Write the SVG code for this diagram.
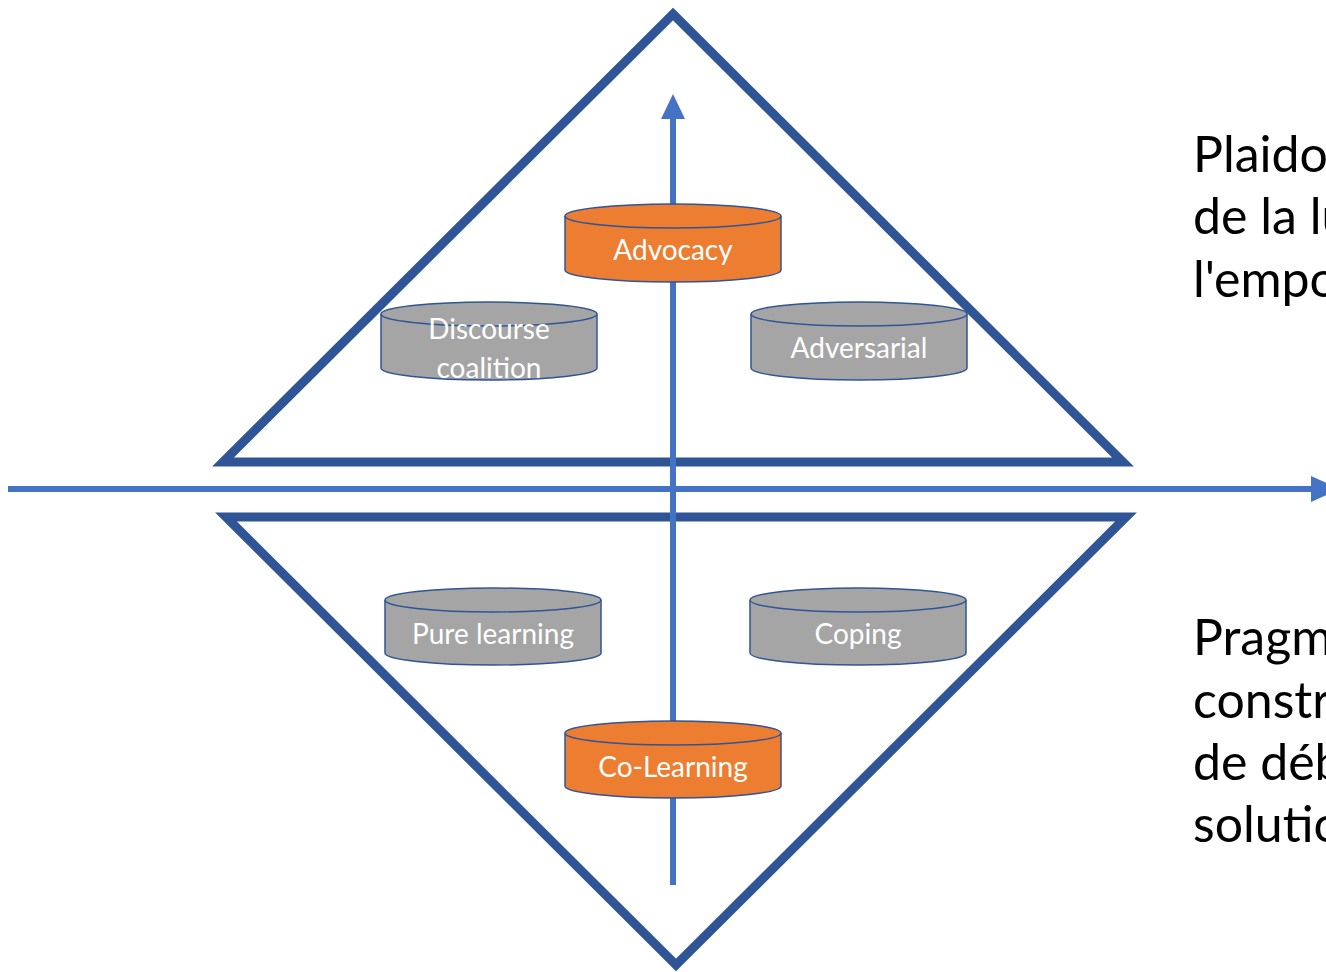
<svg xmlns="http://www.w3.org/2000/svg" width="1326" height="972" viewBox="0 0 1326 972">
<style>
.tri{fill:none;stroke:#2F5597;stroke-width:9;stroke-linejoin:miter}
.axis{stroke:#4472C4;stroke-width:6;fill:none}
.head{fill:#4472C4}
.cyl-o{fill:#ED7D31;stroke:#2F5597;stroke-width:1.5}
.cyl-g{fill:#A5A5A5;stroke:#2F5597;stroke-width:1.5}
.lbl{font-family:Lato,"Liberation Sans",sans-serif;font-size:28px;fill:#FFFFFF;text-anchor:middle}
.side{font-family:Lato,"Liberation Sans",sans-serif;font-size:50px;fill:#000000}
</style>
<rect width="1326" height="972" fill="#FFFFFF"/>
<g id="upper-triangle"><polygon class="tri" points="673,14 1123,462 223,462"/></g>
<g id="lower-triangle"><polygon class="tri" points="226,517 1126,517 676,965"/></g>
<g id="connectors">
<line class="axis" x1="8" y1="489" x2="1312" y2="489"/>
<polygon class="head" points="1311,476 1340,489 1311,502"/>
<line class="axis" x1="673" y1="885" x2="673" y2="118"/>
<polygon class="head" points="661,119 673,94 685,119"/>
</g>
<g id="advocacy">
<path class="cyl-o" d="M565,216 L565,270 A108,12 0 0 0 781,270 L781,216"/>
<ellipse class="cyl-o" cx="673" cy="216" rx="108" ry="12"/>
<text class="lbl" x="673" y="260">Advocacy</text>
</g>
<g id="discourse-coalition">
<path class="cyl-g" d="M381,314 L381,368 A108,12 0 0 0 597,368 L597,314"/>
<ellipse class="cyl-g" cx="489" cy="314" rx="108" ry="12"/>
<text class="lbl" x="489" y="339">Discourse</text>
<text class="lbl" x="489" y="378">coalition</text>
</g>
<g id="adversarial">
<path class="cyl-g" d="M751,314 L751,368 A108,12 0 0 0 967,368 L967,314"/>
<ellipse class="cyl-g" cx="859" cy="314" rx="108" ry="12"/>
<text class="lbl" x="859" y="358">Adversarial</text>
</g>
<g id="pure-learning">
<path class="cyl-g" d="M385,600 L385,653 A108,12 0 0 0 601,653 L601,600"/>
<ellipse class="cyl-g" cx="493" cy="600" rx="108" ry="12"/>
<text class="lbl" x="493" y="644">Pure learning</text>
</g>
<g id="coping">
<path class="cyl-g" d="M750,600 L750,653 A108,12 0 0 0 966,653 L966,600"/>
<ellipse class="cyl-g" cx="858" cy="600" rx="108" ry="12"/>
<text class="lbl" x="858" y="644">Coping</text>
</g>
<g id="co-learning">
<path class="cyl-o" d="M565,733 L565,786 A108,12 0 0 0 781,786 L781,733"/>
<ellipse class="cyl-o" cx="673" cy="733" rx="108" ry="12"/>
<text class="lbl" x="673" y="777">Co-Learning</text>
</g>
<g id="label-top">
<text class="side" x="1193" y="172">Plaido</text>
<text class="side" x="1193" y="234">de la lu</text>
<text class="side" x="1193" y="297">l'empo</text>
</g>
<g id="label-bottom">
<text class="side" x="1193" y="655">Pragm</text>
<text class="side" x="1193" y="718">constr</text>
<text class="side" x="1193" y="780">de déb</text>
<text class="side" x="1193" y="842">solutio</text>
</g>
</svg>
